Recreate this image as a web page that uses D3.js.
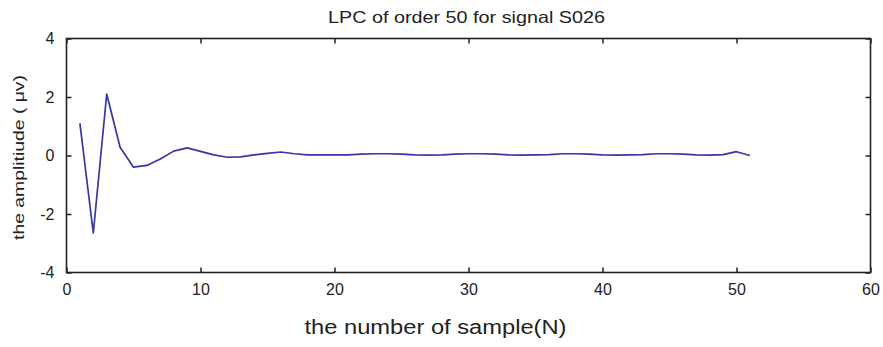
<!DOCTYPE html>
<html>
<head>
<meta charset="utf-8">
<script src="https://cdn.jsdelivr.net/npm/d3@7"></script>
<style>
  html, body { margin: 0; padding: 0; background: #fff; }
  svg { display: block; font-family: "Liberation Sans", Arial, sans-serif; }
</style>
</head>
<body>
<svg id="chart" width="883" height="347"></svg>
<script>
// LPC coefficients (order 50) for signal S026, indexed 1..51
const sampleIndex = d3.range(1, 52);
const amplitude = [
  1.10, -2.65, 2.10, 0.28, -0.40, -0.34, -0.12, 0.15, 0.26, 0.14,
  0.02, -0.06, -0.05, 0.02, 0.07, 0.12, 0.06, 0.02, 0.02, 0.02,
  0.02, 0.05, 0.06, 0.06, 0.05, 0.02, 0.01, 0.02, 0.05, 0.06,
  0.06, 0.05, 0.02, 0.01, 0.02, 0.03, 0.06, 0.06, 0.05, 0.02,
  0.01, 0.02, 0.03, 0.06, 0.06, 0.05, 0.02, 0.01, 0.03, 0.13,
  0.00
];
const xTicks = [0, 10, 20, 30, 40, 50, 60];
const yTicks = [-4, -2, 0, 2, 4];

const titleText = "LPC of order 50 for signal S026";
const xLabelText = "the number of sample(N)";
const yLabelText = "the amplitiude ( \u03bcv)";

const svg = d3.select("#chart");
const plot = { left: 66.5, right: 870.5, top: 38.5, bottom: 272.5 };

const x = d3.scaleLinear().domain([0, 60]).range([plot.left, plot.right]);
const y = d3.scaleLinear().domain([-4, 4]).range([plot.bottom, plot.top]);

const tickLen = 5;
const plain = d => String(d);

// bottom axis: inward ticks with labels
const gBottom = svg.append("g")
  .attr("transform", `translate(0,${plot.bottom})`)
  .call(d3.axisBottom(x).tickValues(xTicks).tickFormat(plain)
    .tickSizeInner(-tickLen).tickSizeOuter(0).tickPadding(11));
// top axis: inward ticks, no labels
const gTop = svg.append("g")
  .attr("transform", `translate(0,${plot.top})`)
  .call(d3.axisTop(x).tickValues(xTicks).tickSizeInner(-tickLen).tickSizeOuter(0).tickFormat(""));
// left axis with labels
const gLeft = svg.append("g")
  .attr("transform", `translate(${plot.left},0)`)
  .call(d3.axisLeft(y).tickValues(yTicks).tickFormat(plain)
    .tickSizeInner(-tickLen).tickSizeOuter(0).tickPadding(12));
// right axis: inward ticks only
const gRight = svg.append("g")
  .attr("transform", `translate(${plot.right},0)`)
  .call(d3.axisRight(y).tickValues(yTicks).tickSizeInner(-tickLen).tickSizeOuter(0).tickFormat(""));

[gBottom, gTop, gLeft, gRight].forEach(g => {
  g.select(".domain").remove();
  g.selectAll(".tick line").attr("stroke", "#222").attr("stroke-width", 1.5);
  g.selectAll(".tick text")
    .attr("fill", "#222")
    .style("font-size", "16px");
});

// frame around the plot area
svg.append("rect")
  .attr("x", plot.left)
  .attr("y", plot.top)
  .attr("width", plot.right - plot.left)
  .attr("height", plot.bottom - plot.top)
  .attr("fill", "none")
  .attr("stroke", "#222")
  .attr("stroke-width", 1.6);

// the coefficient curve
const line = d3.line()
  .x((d, i) => x(sampleIndex[i]))
  .y(d => y(d));

svg.append("path")
  .datum(amplitude)
  .attr("d", line)
  .attr("fill", "none")
  .attr("stroke", "#3636a8")
  .attr("stroke-width", 1.7)
  .attr("stroke-linejoin", "round");

// title and axis labels
svg.append("text")
  .attr("x", 466.5)
  .attr("y", 23)
  .attr("text-anchor", "middle")
  .attr("fill", "#222")
  .attr("textLength", 277)
  .attr("lengthAdjust", "spacingAndGlyphs")
  .style("font-size", "16.5px")
  .text(titleText);

svg.append("text")
  .attr("x", 435.5)
  .attr("y", 334)
  .attr("text-anchor", "middle")
  .attr("fill", "#222")
  .attr("textLength", 262)
  .attr("lengthAdjust", "spacingAndGlyphs")
  .style("font-size", "20px")
  .text(xLabelText);

svg.append("text")
  .attr("transform", `translate(24,157.5) rotate(-90)`)
  .attr("text-anchor", "middle")
  .attr("fill", "#222")
  .attr("textLength", 165)
  .attr("lengthAdjust", "spacingAndGlyphs")
  .style("font-size", "15.5px")
  .text(yLabelText);
</script>
</body>
</html>
